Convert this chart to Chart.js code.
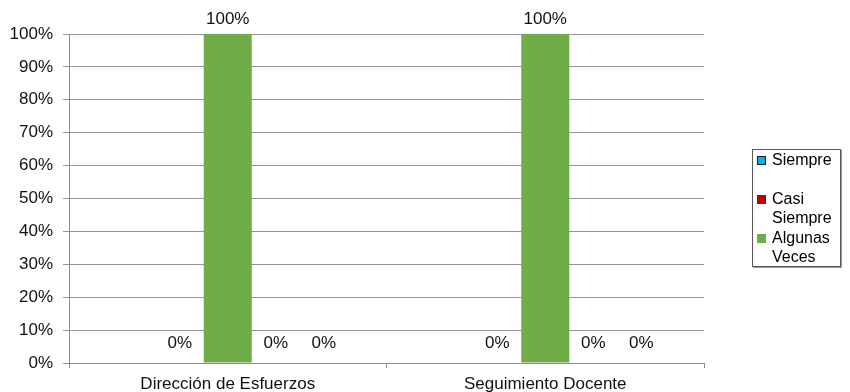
<!DOCTYPE html>
<html>
<head>
<meta charset="utf-8">
<script src="https://cdn.jsdelivr.net/npm/chart.js@4/dist/chart.umd.min.js"></script>
<style>
  html, body { margin: 0; padding: 0; background: #fff; }
  #wrap { position: relative; width: 850px; height: 392px; overflow: hidden; }
  canvas { position: absolute; left: 0; top: 0; }
  #legend {
    position: absolute; left: 752px; top: 149px; width: 89px; height: 118px;
    border: 1px solid #595959; box-shadow: 1px 1px 0 #9a9a9a;
    font-family: "Liberation Sans", Arial, sans-serif; font-size: 16px; color: #000;
    box-sizing: border-box; padding: 0; background: #fff;
  }
  .item { position: relative; height: 39px; padding-left: 19px; line-height: 19px; }
  .sw { position: absolute; left: 4px; top: 6px; width: 9px; height: 9px; box-sizing: border-box; }
</style>
</head>
<body>
<div id="wrap">
  <canvas id="c" width="850" height="392"></canvas>
  <div id="legend"></div>
</div>
<script>
// Categories and per-series percentages
const categories = ["Dirección de Esfuerzos", "Seguimiento Docente"];
const seriesNames = ["Siempre", "Casi Siempre", "Algunas Veces", "Casi Nunca", "Nunca"];
const siempre = [null, null];
const casiSiempre = [0, 0];
const algunasVeces = [100, 100];
const casiNunca = [0, 0];
const nunca = [0, 0];
const yTicks = [0, 10, 20, 30, 40, 50, 60, 70, 80, 90, 100];

const colors = ["#00B0F0", "#C00000", "#70AD47", "#7F7F7F", "#FFC000"];
const legendShown = 3;
const FONT = '"Liberation Sans", Arial, sans-serif';

const seriesValues = [siempre, casiSiempre, algunasVeces, casiNunca, nunca];

// Percentage labels above each bar, kept inside the top of the canvas
const valueLabels = {
  id: 'valueLabels',
  afterDatasetsDraw(chart) {
    const ctx = chart.ctx;
    ctx.save();
    ctx.font = '17px ' + FONT;
    ctx.fillStyle = '#111';
    ctx.textAlign = 'center';
    ctx.textBaseline = 'middle';
    chart.data.datasets.forEach((ds, i) => {
      const meta = chart.getDatasetMeta(i);
      meta.data.forEach((bar, j) => {
        const v = ds.data[j];
        if (v === null || v === undefined) return;
        const y = Math.max(bar.y - 20, 19.5);
        ctx.fillText(v + '%', bar.x, y);
      });
    });
    ctx.restore();
  }
};

new Chart(document.getElementById('c'), {
  type: 'bar',
  data: {
    labels: categories,
    datasets: seriesNames.map((name, i) => ({
      label: name,
      data: seriesValues[i],
      backgroundColor: colors[i],
      borderWidth: 0,
      categoryPercentage: 0.7565,
      barPercentage: 1.0
    }))
  },
  options: {
    responsive: false,
    animation: false,
    layout: { padding: { top: 34, right: 146, left: 0, bottom: 0 } },
    plugins: { legend: { display: false }, tooltip: { enabled: false } },
    scales: {
      x: {
        grid: { drawOnChartArea: false, drawTicks: true, tickLength: 5, color: '#8c8c8c', offset: true },
        border: { color: '#8c8c8c', width: 1 },
        ticks: { color: '#111', font: { family: FONT, size: 17 }, padding: 6, maxRotation: 0 },
        afterFit(scale) { scale.height = 29; }
      },
      y: {
        min: 0, max: 100,
        afterBuildTicks(scale) { scale.ticks = yTicks.map(v => ({ value: v })); },
        grid: { color: '#949494', tickLength: 6, drawTicks: true },
        border: { color: '#8c8c8c', width: 1 },
        ticks: { color: '#111', font: { family: FONT, size: 17 }, padding: 10, callback: v => v + '%' },
        afterFit(scale) { scale.width = 69; }
      }
    }
  },
  plugins: [valueLabels]
});

// Legend entries
const legend = document.getElementById('legend');
seriesNames.slice(0, legendShown).forEach((name, i) => {
  const item = document.createElement('div');
  item.className = 'item';
  const sw = document.createElement('span');
  sw.className = 'sw';
  sw.style.background = colors[i];
  if (i === 0) sw.style.border = '1px solid #1a1a1a';
  item.appendChild(sw);
  item.appendChild(document.createTextNode(name));
  legend.appendChild(item);
});
</script>
</body>
</html>
